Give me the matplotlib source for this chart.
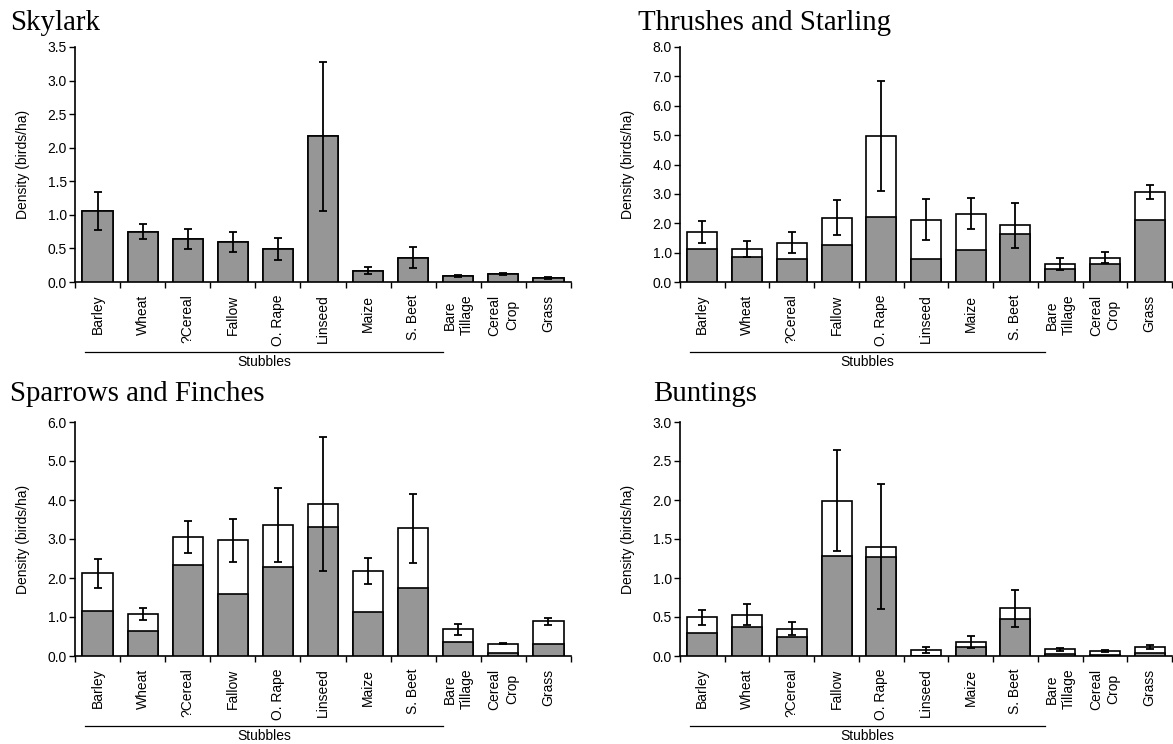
import matplotlib.pyplot as plt
import matplotlib.transforms as mtransforms
import numpy as np

cats = ['Barley', 'Wheat', '?Cereal', 'Fallow', 'O. Rape', 'Linseed', 'Maize',
        'S. Beet', 'Bare\nTillage', 'Cereal\nCrop', 'Grass']

# Skylark (single series)
sky_total = [1.06, 0.75, 0.635, 0.59, 0.49, 2.17, 0.17, 0.36, 0.09, 0.12, 0.06]
sky_grey = [1.06, 0.75, 0.635, 0.59, 0.49, 2.17, 0.17, 0.36, 0.09, 0.12, 0.06]
sky_err = [0.28, 0.115, 0.15, 0.15, 0.16, 1.11, 0.05, 0.155, 0.015, 0.015, 0.01]

# Thrushes and Starling
thr_total = [1.71, 1.13, 1.34, 2.19, 4.97, 2.12, 2.33, 1.93, 0.62, 0.83, 3.06]
thr_grey = [1.12, 0.86, 0.77, 1.26, 2.20, 0.78, 1.09, 1.62, 0.45, 0.60, 2.11]
thr_err = [0.375, 0.265, 0.36, 0.585, 1.87, 0.705, 0.535, 0.775, 0.2, 0.175, 0.235]

# Sparrows and Finches
spa_total = [2.12, 1.08, 3.05, 2.97, 3.36, 3.89, 2.18, 3.27, 0.68, 0.32, 0.89]
spa_grey = [1.15, 0.64, 2.34, 1.58, 2.27, 3.30, 1.12, 1.74, 0.37, 0.085, 0.30]
spa_err = [0.375, 0.155, 0.415, 0.555, 0.96, 1.715, 0.34, 0.88, 0.13, 0.02, 0.09]

# Buntings
bun_total = [0.495, 0.53, 0.35, 1.99, 1.40, 0.077, 0.18, 0.61, 0.085, 0.064, 0.11]
bun_grey = [0.29, 0.37, 0.25, 1.285, 1.27, 0.0, 0.12, 0.47, 0.03, 0.013, 0.034]
bun_err = [0.095, 0.135, 0.08, 0.65, 0.8, 0.04, 0.075, 0.235, 0.02, 0.01, 0.026]

panels = [
    ('Skylark', sky_total, sky_grey, sky_err, 3.5, 0.5),
    ('Thrushes and Starling', thr_total, thr_grey, thr_err, 8.0, 1.0),
    ('Sparrows and Finches', spa_total, spa_grey, spa_err, 6.0, 1.0),
    ('Buntings', bun_total, bun_grey, bun_err, 3.0, 0.5),
]

axpos = [
    [75/1173, 1-282/744, 496/1173, 235/744],
    [680/1173, 1-282/744, 492/1173, 235/744],
    [75/1173, 1-656/744, 496/1173, 234/744],
    [680/1173, 1-656/744, 492/1173, 234/744],
]
titlepos = [(10/1173, 1-30/744), (638/1173, 1-30/744),
            (10/1173, 1-401/744), (653/1173, 1-401/744)]

sans = ['Liberation Sans', 'DejaVu Sans']
serif = ['Liberation Serif', 'DejaVu Serif']
fs = 10

fig = plt.figure(figsize=(11.73, 7.44), dpi=100)
x = np.arange(len(cats))

for i, (name, tot, grey, err, ymax, step) in enumerate(panels):
    ax = fig.add_axes(axpos[i])
    ax.bar(x, tot, width=0.67, color='white', edgecolor='black', linewidth=1.2, zorder=2)
    ax.bar(x, grey, width=0.67, color='#969696', edgecolor='black', linewidth=1.2, zorder=3)
    ax.errorbar(x, tot, yerr=err, fmt='none', ecolor='black', elinewidth=1.3,
                capsize=3, capthick=1.3, zorder=4)
    ax.set_xlim(-0.5, len(cats) - 0.5)
    ax.set_ylim(0, ymax)
    yt = np.arange(0, ymax + step/2, step)
    ax.set_yticks(yt)
    ax.set_yticklabels(['%.1f' % v for v in yt], family=sans, fontsize=fs)
    ax.set_xticks(x)
    ax.set_xticklabels(cats, rotation=90, family=sans, fontsize=fs,
                       multialignment='center', linespacing=1.3)
    ax.set_xticks(np.arange(-0.5, len(cats)), minor=True)
    ax.tick_params(axis='x', which='major', length=0, pad=9)
    ax.tick_params(axis='x', which='minor', length=4, width=1, direction='out')
    ax.tick_params(axis='y', length=4, width=1, direction='out', pad=2)
    for s in ['top', 'right']:
        ax.spines[s].set_visible(False)
    for s in ['left', 'bottom']:
        ax.spines[s].set_linewidth(1.2)
    ax.set_ylabel('Density (birds/ha)', family=sans, fontsize=fs)
    ax.yaxis.set_label_coords(-0.091, 0.5)

    trans = mtransforms.blended_transform_factory(ax.transData, ax.transAxes)
    ax.plot([-0.28, 7.66], [-0.298, -0.298], color='black', lw=0.9,
            transform=trans, clip_on=False)
    ax.text(3.69, -0.31, 'Stubbles', transform=trans, ha='center', va='top',
            family=sans, fontsize=fs)

    fig.text(titlepos[i][0], titlepos[i][1], name, family=serif, fontsize=20.8,
             ha='left', va='baseline')

fig.savefig('out.png', dpi=100)
